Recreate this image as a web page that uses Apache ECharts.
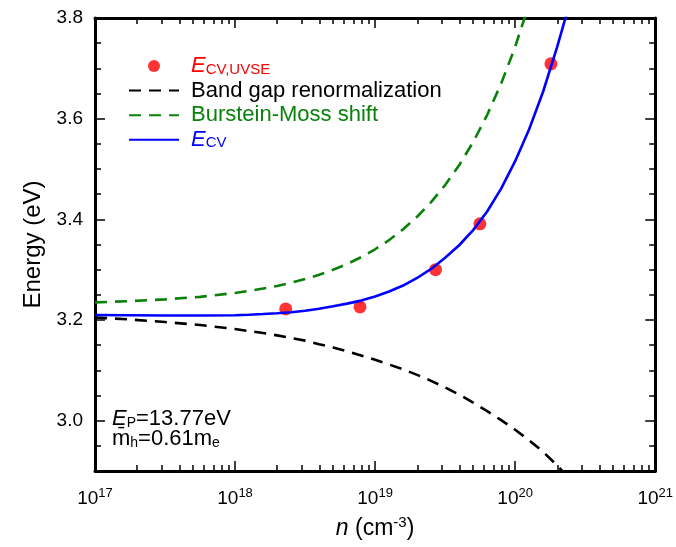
<!DOCTYPE html>
<html><head><meta charset="utf-8">
<script src="https://cdn.jsdelivr.net/npm/echarts@6/dist/echarts.min.js"></script>
<style>html,body{margin:0;padding:0;background:#fff}#c{width:676px;height:547px}</style>
</head><body><div id="c"></div>
<script>
// ---- data ----
const dotN = [2.3e18, 7.8e18, 2.7e19, 5.6e19, 1.8e20];
const dotE = [3.222, 3.226, 3.300, 3.391, 3.709];

// log10(n) sample positions of the three curves
const curveLogN = [17.0, 17.25, 17.5, 17.75, 18.0, 18.1, 18.2, 18.3, 18.4, 18.5, 18.6, 18.7, 18.8, 18.9,
                   19.0, 19.1, 19.2, 19.3, 19.4, 19.5, 19.6, 19.7, 19.8, 19.9, 20.0, 20.1, 20.2, 20.3, 20.4, 20.5];
const ecvE = [3.210, 3.2095, 3.209, 3.209, 3.2095, 3.2105, 3.2118, 3.2135, 3.2155, 3.2185, 3.2225, 3.2272, 3.2325, 3.2385,
              3.2465, 3.2565, 3.2685, 3.2835, 3.3015, 3.3235, 3.3485, 3.3785, 3.4155, 3.461, 3.5155, 3.579, 3.654, 3.7425, 3.840, 3.950];
const bmE  = [3.235, 3.2375, 3.241, 3.246, 3.2538, 3.2578, 3.2624, 3.2677, 3.274, 3.2813, 3.2898, 3.2997, 3.3113, 3.3247,
              3.3405, 3.3588, 3.3802, 3.4051, 3.4341, 3.468, 3.5075, 3.5535, 3.6072, 3.6698, 3.7427, 3.8279, 3.927, 4.043, 4.178, 4.335];
const bgrE = [3.205, 3.201, 3.196, 3.190, 3.182, 3.178, 3.174, 3.1695, 3.164, 3.159, 3.152, 3.1455, 3.138, 3.1295,
              3.121, 3.1115, 3.102, 3.091, 3.079, 3.066, 3.052, 3.036, 3.019, 3.001, 2.982, 2.961, 2.938, 2.911, 2.881, 2.846];

const xDecades = [17, 18, 19, 20, 21];
const yMajorTicks = [3.0, 3.2, 3.4, 3.6, 3.8];
const yMinorTicks = [2.9, 2.95, 3.0, 3.05, 3.1, 3.15, 3.2, 3.25, 3.3, 3.35, 3.4, 3.45, 3.5, 3.55, 3.6, 3.65, 3.7, 3.75, 3.8];
const xMinorMantissas = [2, 3, 4, 5, 6, 7, 8, 9];

// ---- build ----
const xMinorTicks = [];
xDecades.slice(0, -1).forEach(d => xMinorMantissas.forEach(m => xMinorTicks.push(Math.log10(m) + d)));

const pair = (xs, ys) => xs.map((x, i) => [x, ys[i]]);
const FONT = '"Liberation Sans", Arial, Helvetica, sans-serif';

const X_MIN = 17, X_MAX = 21, Y_MIN = 2.9, Y_MAX = 3.8;
function xAx(pos, minor, labels) {
  return {
    type: 'value', position: pos, min: X_MIN, max: X_MAX, interval: 1,
    axisLine: { show: !minor, onZero: false, lineStyle: { color: '#000', width: 3 } },
    axisTick: { show: true, inside: true, length: minor ? 6 : 10, lineStyle: { color: '#000', width: 1.5 },
      customValues: minor ? xMinorTicks : xDecades },
    axisLabel: labels ? {
      show: true, margin: 16, fontFamily: FONT, color: '#000',
      formatter: v => '{b|10}{s|' + v + '}',
      rich: { b: { fontSize: 19, fontFamily: FONT, lineHeight: 24 }, s: { fontSize: 13, fontFamily: FONT, verticalAlign: 'top', lineHeight: 14 } }
    } : { show: false },
    splitLine: { show: false },
    name: labels ? '{i|n} (cm{s|-3})' : '', nameLocation: 'middle', nameGap: 44,
    nameTextStyle: { fontFamily: FONT, fontSize: 23, color: '#000',
      rich: { i: { fontSize: 23, fontStyle: 'italic', fontFamily: FONT, lineHeight: 28 }, s: { fontSize: 15, fontFamily: FONT, verticalAlign: 'top', lineHeight: 15 } } }
  };
}
function yAx(pos, minor, labels) {
  return {
    type: 'value', position: pos, min: Y_MIN, max: Y_MAX,
    axisLine: { show: !minor, onZero: false, lineStyle: { color: '#000', width: 3 } },
    axisTick: { show: true, inside: true, length: minor ? 6 : 10, lineStyle: { color: '#000', width: 1.5 },
      customValues: minor ? yMinorTicks : yMajorTicks },
    axisLabel: labels ? { show: true, margin: 12, fontSize: 19, fontFamily: FONT, color: '#000',
      customValues: yMajorTicks, formatter: v => v.toFixed(1) } : { show: false },
    splitLine: { show: false },
    name: labels ? 'Energy (eV)' : '', nameLocation: 'middle', nameGap: 41, nameRotate: 90,
    nameTextStyle: { fontFamily: FONT, fontSize: 24, color: '#000' }
  };
}

const legendText = {
  dots: '{p|}{ir|E}{sr|CV,UVSE}',
  bgr: '{p|}{k|Band gap renormalization}',
  bm: '{p|}{g|Burstein-Moss shift}',
  ecv: '{p|}{ib|E}{sb|CV}'
};
const LH = 22;
const GREEN = '#0a820a';
const hideSym = { opacity: 0, color: 'rgba(0,0,0,0)', borderWidth: 0 };
const chart = echarts.init(document.getElementById('c'), null, { renderer: 'canvas' });
chart.setOption({
  animation: false,
  backgroundColor: '#fff',
  grid: { left: 95, right: 17, top: 18, bottom: 76 },
  xAxis: [xAx('bottom', false, true), xAx('bottom', true, false), xAx('top', false, false), xAx('top', true, false)],
  yAxis: [yAx('left', false, true), yAx('left', true, false), yAx('right', false, false), yAx('right', true, false)],
  legend: {
    orient: 'vertical', left: 128, top: 55, padding: 0, itemWidth: 50, itemHeight: 12, itemGap: 2.6,
    data: [{ name: 'dots', icon: 'circle' }, { name: 'bgr', itemStyle: hideSym }, { name: 'bm', itemStyle: hideSym }, { name: 'ecv', itemStyle: hideSym }],
    formatter: n => legendText[n],
    selectedMode: false,
    textStyle: {
      fontFamily: FONT, fontSize: 22,
      rich: {
        p: { width: 7 },
        ir: { fontSize: 22, fontStyle: 'italic', color: '#ff0000', fontFamily: FONT, lineHeight: LH },
        sr: { fontSize: 15, color: '#ff0000', fontFamily: FONT, verticalAlign: 'bottom', lineHeight: 15, padding: [7, 0, 0, 0] },
        k: { fontSize: 22, color: '#000', fontFamily: FONT, lineHeight: LH },
        g: { fontSize: 22, color: GREEN, fontFamily: FONT, lineHeight: LH },
        ib: { fontSize: 22, fontStyle: 'italic', color: '#0000ff', fontFamily: FONT, lineHeight: LH },
        sb: { fontSize: 15, color: '#0000ff', fontFamily: FONT, verticalAlign: 'bottom', lineHeight: 15, padding: [7, 0, 0, 0] }
      }
    }
  },
  graphic: [
    { type: 'text', left: 112, top: 408, style: {
      text: '{i|E}{s|P}{n|=13.77eV}', fill: '#000',
      rich: { i: { fontSize: 22, fontStyle: 'italic', fontFamily: FONT, lineHeight: 22 },
              n: { fontSize: 22, fontFamily: FONT, lineHeight: 22 },
              s: { fontSize: 14, fontFamily: FONT, verticalAlign: 'bottom', lineHeight: 14, padding: [6, 0, 0, 0] } } } },
    { type: 'text', left: 112, top: 428, style: {
      text: '{n|m\u0304}{s|h}{n|=0.61m}{s|e}', fill: '#000',
      rich: { n: { fontSize: 22, fontFamily: FONT, lineHeight: 22 },
              s: { fontSize: 14, fontFamily: FONT, verticalAlign: 'bottom', lineHeight: 14, padding: [6, 0, 0, 0] } } } }
  ],
  series: [
    { name: 'dots', type: 'scatter', data: pair(dotN.map(Math.log10), dotE), symbol: 'circle', symbolSize: 13,
      itemStyle: { color: '#ff0000' }, z: 2 },
    { name: 'bgr', type: 'line', data: pair(curveLogN, bgrE), showSymbol: false, symbol: 'none', clip: true,
      lineStyle: { color: '#000', width: 2.6, type: [12, 8] }, itemStyle: { color: '#000' }, z: 3 },
    { name: 'bm', type: 'line', data: pair(curveLogN, bmE), showSymbol: false, symbol: 'none', clip: true,
      lineStyle: { color: GREEN, width: 2.6, type: [12, 8] }, itemStyle: { color: GREEN }, z: 3 },
    { name: 'ecv', type: 'line', data: pair(curveLogN, ecvE), showSymbol: false, symbol: 'none', clip: true,
      lineStyle: { color: '#0000ff', width: 2.6 }, itemStyle: { color: '#0000ff' }, z: 4 }
  ]
});
</script>
</body></html>
